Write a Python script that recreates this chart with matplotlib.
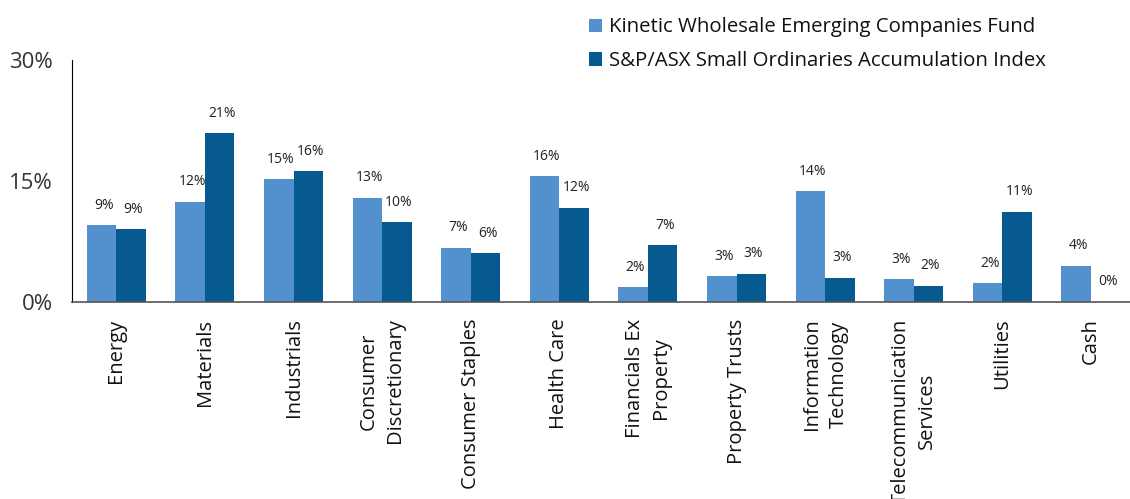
import numpy as np
import matplotlib
matplotlib.use('Agg')
import matplotlib.pyplot as plt

plt.rcParams['font.family'] = ['Open Sans', 'DejaVu Sans']

# 数据
categories = ['Energy', 'Materials', 'Industrials', 'Consumer\nDiscretionary',
              'Consumer Staples', 'Health Care', 'Financials Ex\nProperty',
              'Property Trusts', 'Information\nTechnology',
              'Telecommunication\nServices', 'Utilities', 'Cash']
fund = [9.5, 12.4, 15.2, 12.9, 6.7, 15.6, 1.8, 3.2, 13.7, 2.8, 2.3, 4.5]
index = [9.0, 20.9, 16.2, 9.9, 6.0, 11.7, 7.0, 3.5, 3.0, 2.0, 11.2, 0.0]
fund_labels = ['9%', '12%', '15%', '13%', '7%', '16%', '2%', '3%', '14%', '3%', '2%', '4%']
index_labels = ['9%', '21%', '16%', '10%', '6%', '12%', '7%', '3%', '3%', '2%', '11%', '0%']
series_names = ['Kinetic Wholesale Emerging Companies Fund',
                'S&P/ASX Small Ordinaries Accumulation Index']
yticks = [0, 15, 30]
ytick_labels = ['0%', '15%', '30%']

light = '#5291CE'
dark = '#065A8F'

fig = plt.figure(figsize=(11.3, 4.99), dpi=100)
ax = fig.add_axes([0.0637, 0.395, 0.941, 0.485])

x = np.arange(len(categories))
w = 0.333
b1 = ax.bar(x - w / 2, fund, width=w, color=light, label=series_names[0])
b2 = ax.bar(x + w / 2, index, width=w, color=dark, label=series_names[1])

# 数值标签
for bars, labs in ((b1, fund_labels), (b2, index_labels)):
    for rect, lab in zip(bars, labs):
        ax.annotate(lab, (rect.get_x() + rect.get_width() / 2, rect.get_height()),
                    xytext=(1.5, 9), textcoords='offset points',
                    ha='center', va='bottom', fontsize=10, color='#222222')

ax.set_xlim(-0.5, len(categories) - 0.5)
ax.set_ylim(0, 30)
ax.set_yticks(yticks)
ax.set_yticklabels(ytick_labels, fontsize=16, color='#333333')
ax.set_xticks(x)
ax.set_xticklabels(categories, rotation=90, fontsize=14.5, color='#111111',
                   multialignment='center', linespacing=1.45)
ax.tick_params(axis='both', length=0)
ax.tick_params(axis='y', pad=14)
ax.tick_params(axis='x', pad=12)

for s in ['top', 'right']:
    ax.spines[s].set_visible(False)
ax.spines['left'].set_color('#000000')
ax.spines['bottom'].set_color('#555555')
ax.spines['bottom'].set_linewidth(1.2)

fig.legend(loc='upper left', bbox_to_anchor=(0.505, 1.002), frameon=False,
           fontsize=14.7, handlelength=0.62, handleheight=0.62, handletextpad=0.35,
           labelspacing=0.68, labelcolor='#111111')

fig.savefig('out.png', dpi=100)
